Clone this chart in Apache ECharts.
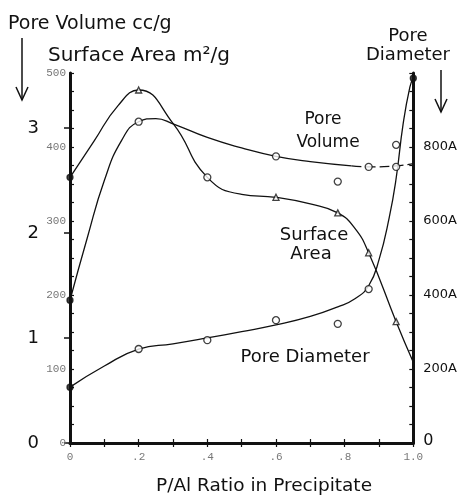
<!DOCTYPE html>
<html>
<head>
<meta charset="utf-8">
<script src="https://cdn.jsdelivr.net/npm/echarts@6/dist/echarts.min.js"></script>
<style>
  html, body { margin: 0; padding: 0; background: #fff; }
  #chart { width: 460px; height: 495px; }
</style>
</head>
<body>
<div id="chart"></div>
<script>
// x tick labels (P/Al ratio)
const xLabels = ['0', '.2', '.4', '.6', '.8', '1.0']

// surface area, m2/g (left inner axis)
const saCurve = [[0, 359], [0.07, 408], [0.14, 456], [0.2, 477], [0.3, 432], [0.4, 359], [0.5, 336], [0.6, 332], [0.7, 323], [0.78, 311], [0.83, 290], [0.87, 257], [0.95, 164], [1.0, 109]]
const saPoints = [[0.2, 477], [0.6, 332], [0.78, 311], [0.87, 257], [0.95, 164]]
const saOpen = [[0.4, 359]]
const saFilled = [[0, 359]]

// pore volume, cc/g (left outer axis)
const pvCurve = [[0, 1.36], [0.05, 1.95], [0.1, 2.5], [0.15, 2.88], [0.2, 3.06], [0.25, 3.09], [0.3, 3.04], [0.4, 2.91], [0.5, 2.81], [0.6, 2.73], [0.7, 2.68], [0.82, 2.64]]
const pvDashed = [[0.82, 2.64], [0.87, 2.63], [0.95, 2.64], [1.0, 2.66]]
const pvPoints = [[0.2, 3.06], [0.6, 2.73], [0.78, 2.49], [0.87, 2.63], [0.95, 2.63], [0.95, 2.84]]
const pvFilled = [[0, 1.36]]
const pvTicks = [0, 1, 2, 3]

// pore diameter, A (right axis)
const pdCurve = [[0, 151], [0.1, 208], [0.2, 254], [0.3, 268], [0.4, 284], [0.5, 301], [0.6, 319], [0.7, 342], [0.78, 368], [0.83, 390], [0.87, 425], [0.9, 495], [0.93, 610], [0.95, 715], [0.97, 860], [0.99, 962], [1.0, 986]]
const pdPoints = [[0.2, 254], [0.4, 278], [0.6, 332], [0.78, 322], [0.87, 416]]
const pdFilled = [[0, 151], [1.0, 986]]
const pdTicks = [0, 200, 400, 600, 800]

const ink = '#111'
const font = 'DejaVu Sans'
const small = { color: '#777', fontFamily: 'Liberation Mono', fontSize: 11 }

const chart = echarts.init(document.getElementById('chart'))

const curve = (data, yAxisIndex, dashed) => ({
  type: 'line',
  data,
  yAxisIndex,
  smooth: 0.5,
  showSymbol: false,
  silent: true,
  lineStyle: { color: ink, width: 1.3, type: dashed ? [10, 4] : 'solid' },
  z: 2
})

const marks = (data, yAxisIndex, symbol, size, filled) => ({
  type: 'scatter',
  data,
  yAxisIndex,
  symbol,
  symbolSize: size,
  itemStyle: { color: filled ? ink : '#fff', borderColor: ink, borderWidth: 1.3 },
  z: 3
})

const tickSide = (inside) => ({ show: true, inside, length: 4, lineStyle: { color: ink, width: 1.2 } })

const text = (t, x, y, size, align, fam) => ({
  type: 'text',
  x, y,
  style: {
    text: t,
    fill: ink,
    font: size + 'px "' + (fam || font) + '"',
    textAlign: align || 'center',
    textVerticalAlign: 'middle'
  }
})

const arrow = (x, y0, y1) => ({
  type: 'group',
  children: [
    { type: 'line', shape: { x1: x, y1: y0, x2: x, y2: y1 }, style: { stroke: ink, lineWidth: 1.5 } },
    { type: 'polyline', shape: { points: [[x - 6, y1 - 13], [x, y1], [x + 6, y1 - 13]] }, style: { stroke: ink, lineWidth: 1.5, fill: null } }
  ]
})

const option = {
  backgroundColor: '#fff',
  animation: false,
  grid: { left: 70, right: 40, top: 73, bottom: 52 },
  xAxis: [
    {
      type: 'value',
      min: 0,
      max: 1,
      interval: 0.2,
      axisLine: { lineStyle: { color: ink, width: 3 } },
      axisTick: tickSide(true),
      minorTick: { show: true, splitNumber: 2, length: 4, lineStyle: { color: ink, width: 1.2 } },
      splitLine: { show: false },
      axisLabel: { ...small, margin: 9, formatter: v => xLabels[Math.round(v / 0.2)] }
    },
    {
      type: 'value',
      position: 'top',
      min: 0,
      max: 1,
      interval: 0.2,
      axisLine: { lineStyle: { color: ink, width: 2 } },
      axisTick: tickSide(true),
      minorTick: { show: true, splitNumber: 2, length: 4, lineStyle: { color: ink, width: 1.2 } },
      splitLine: { show: false },
      axisLabel: { show: false }
    }
  ],
  yAxis: [
    {
      type: 'value',
      position: 'left',
      min: 0,
      max: 500,
      interval: 100,
      axisLine: { show: true, lineStyle: { color: ink, width: 3 } },
      axisTick: tickSide(true),
      minorTick: { show: true, splitNumber: 4, length: 4, lineStyle: { color: ink, width: 1.2 } },
      splitLine: { show: false },
      axisLabel: { ...small, margin: 4 }
    },
    {
      type: 'value',
      position: 'left',
      offset: 27,
      min: 0,
      max: 3.524,
      interval: 1,
      axisLine: { show: true, lineStyle: { color: ink, width: 1.5 } },
      axisTick: { show: true, inside: false, length: 6, customValues: pvTicks, lineStyle: { color: ink, width: 1.5 } },
      splitLine: { show: false },
      axisLabel: { color: ink, fontFamily: font, fontSize: 18, margin: 4, customValues: pvTicks }
    },
    {
      type: 'value',
      position: 'right',
      min: 0,
      max: 1000,
      interval: 200,
      axisLine: { show: true, lineStyle: { color: ink, width: 3 } },
      axisTick: tickSide(true),
      minorTick: { show: true, splitNumber: 4, length: 4, lineStyle: { color: ink, width: 1.2 } },
      splitLine: { show: false },
      axisLabel: {
        color: ink,
        fontFamily: font,
        fontSize: 13,
        margin: 10,
        customValues: pdTicks,
        formatter: v => (v === 0 ? '{z|0}' : v + 'A'),
        rich: { z: { fontSize: 16, fontFamily: font, color: ink, padding: [0, 0, 4, 0] } }
      }
    }
  ],
  series: [
    curve(saCurve, 0),
    curve(pvCurve, 1),
    curve(pvDashed, 1, true),
    curve(pdCurve, 2),
    marks(saPoints, 0, 'triangle', 6),
    marks(saOpen, 0, 'circle', 7),
    marks(saFilled, 0, 'circle', 6, true),
    marks(pvPoints, 1, 'circle', 7),
    marks(pvFilled, 1, 'circle', 6, true),
    marks(pdPoints, 2, 'circle', 7),
    marks(pdFilled, 2, 'circle', 6, true)
  ],
  graphic: [
    text('Pore Volume cc/g', 8, 24, 19, 'left'),
    text('Surface Area m²/g', 48, 56, 20, 'left'),
    text('Pore', 408, 36, 18),
    text('Diameter', 408, 55, 18),
    text('Pore', 323, 120, 17),
    text('Volume', 328, 143, 17),
    text('Surface', 314, 235, 18),
    text('Area', 311, 254, 18),
    text('Pore Diameter', 305, 357, 18),
    text('P/Al Ratio in Precipitate', 264, 486, 18.5),
    arrow(22, 38, 100),
    arrow(441, 70, 112)
  ]
}

chart.setOption(option)
</script>
</body>
</html>
